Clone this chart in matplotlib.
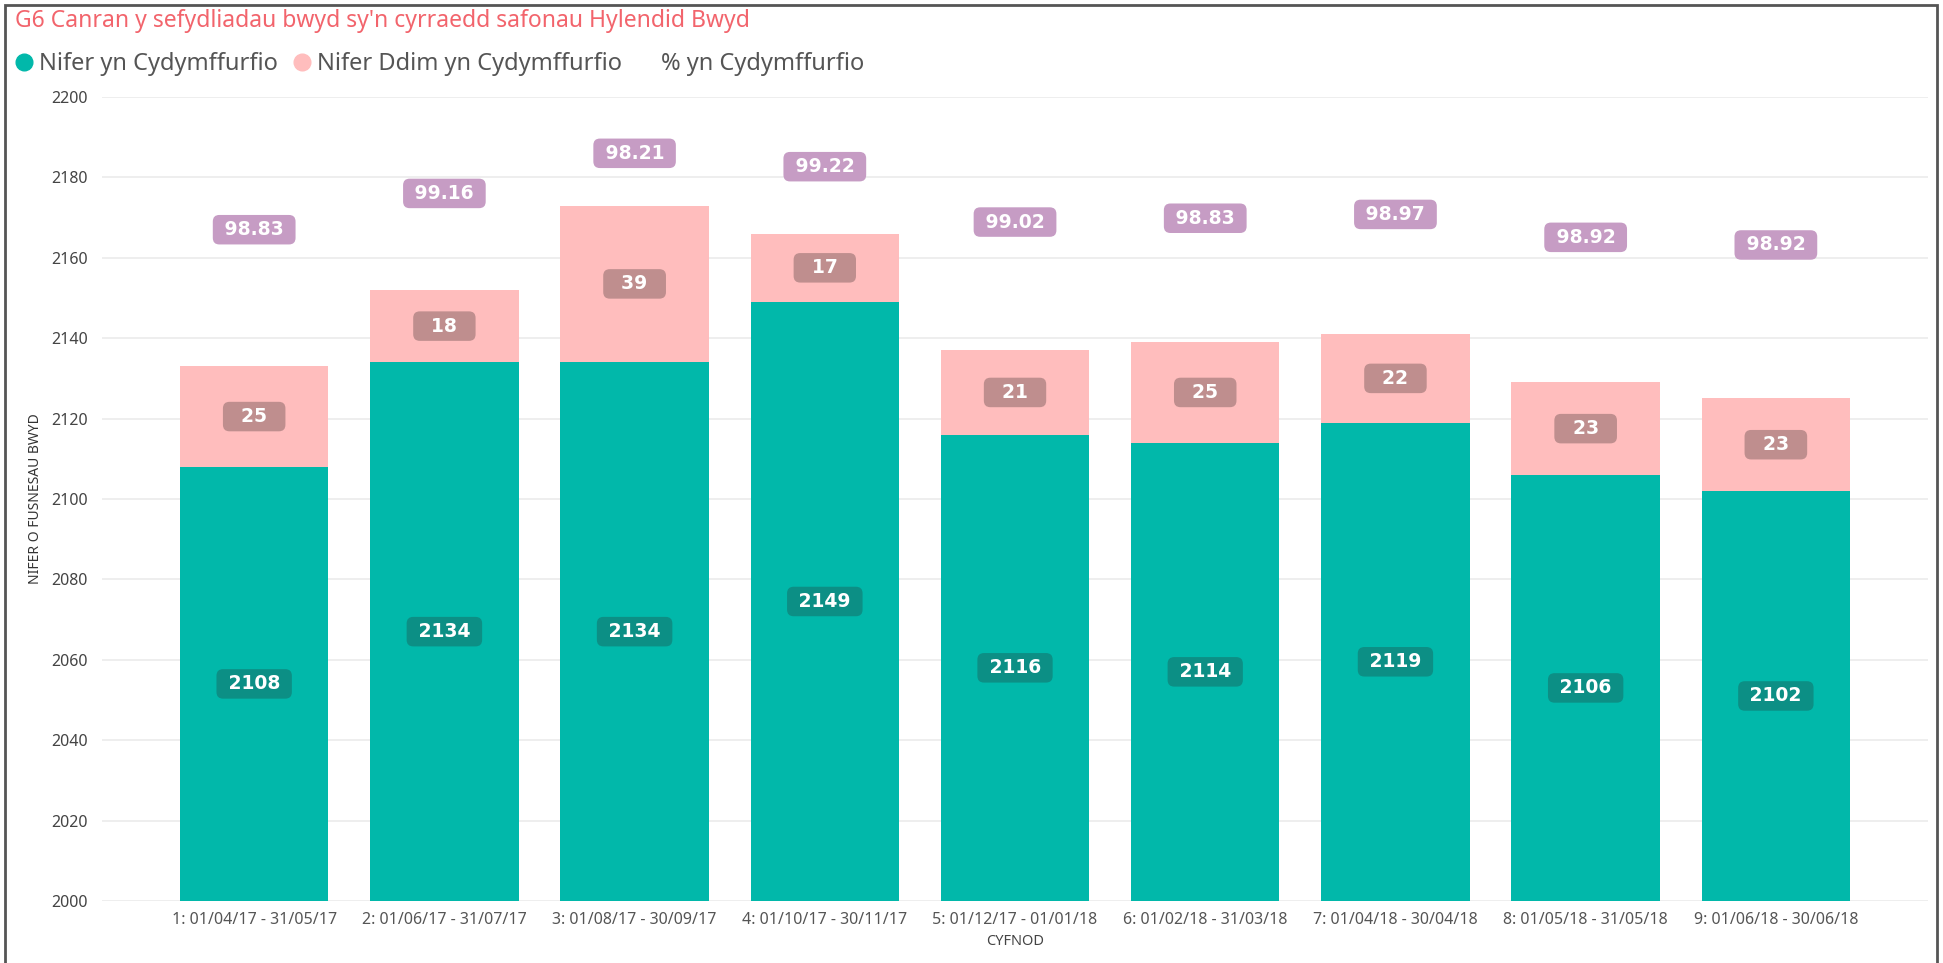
import matplotlib
matplotlib.use("Agg")
import matplotlib.pyplot as plt
from matplotlib.lines import Line2D
from matplotlib.patches import Rectangle

categories = ["1: 01/04/17 - 31/05/17", "2: 01/06/17 - 31/07/17", "3: 01/08/17 - 30/09/17",
              "4: 01/10/17 - 30/11/17", "5: 01/12/17 - 01/01/18", "6: 01/02/18 - 31/03/18",
              "7: 01/04/18 - 30/04/18", "8: 01/05/18 - 31/05/18", "9: 01/06/18 - 30/06/18"]
compliant = [2108, 2134, 2134, 2149, 2116, 2114, 2119, 2106, 2102]
non_compliant = [25, 18, 39, 17, 21, 25, 22, 23, 23]
pct_compliant = [98.83, 99.16, 98.21, 99.22, 99.02, 98.83, 98.97, 98.92, 98.92]
y_ticks = [2000, 2020, 2040, 2060, 2080, 2100, 2120, 2140, 2160, 2180, 2200]

TEAL = "#01B8AA"
PINK = "#FFBDBD"
TEAL_BOX = "#0C8F85"
PINK_BOX = "#BF8E8E"
PCT_BOX = "#C69CC4"

plt.rcParams['font.family'] = ['Noto Sans', 'DejaVu Sans']

fig = plt.figure(figsize=(19.43, 9.63), dpi=100)
ax = fig.add_axes([0.0525, 0.0644, 0.9398, 0.8349])

base = 2000
x = list(range(len(categories)))
heights_c = [v - base for v in compliant]
ax.bar(x, heights_c, bottom=base, width=0.78, color=TEAL, zorder=2)
ax.bar(x, non_compliant, bottom=compliant, width=0.78, color=PINK, zorder=2)

ax.set_xlim(-0.8, len(categories) - 0.2)
ax.set_ylim(2000, 2200)
ax.set_yticks(y_ticks)
ax.set_yticklabels([str(t) for t in y_ticks], fontsize=11.5, color="#444444")
ax.set_xticks(x)
ax.set_xticklabels(categories, fontsize=11.5, color="#555555")
ax.tick_params(length=0, pad=8)
ax.tick_params(axis='y', pad=10)
for s in ax.spines.values():
    s.set_visible(False)
ax.grid(axis='y', color="#EBEBEB", linewidth=1.2, zorder=0)
ax.set_axisbelow(True)
ax.set_ylabel("NIFER O FUSNESAU BWYD", fontsize=10, color="#333333", labelpad=6)
ax.set_xlabel("CYFNOD", fontsize=10.5, color="#444444", labelpad=4)

lbl_kw = dict(ha='center', va='center', color='white', fontsize=13.5,
              fontweight='bold', family='DejaVu Sans', zorder=5)
box = 'round,pad=0.28,rounding_size=0.35'

for i, (c, n) in enumerate(zip(compliant, non_compliant)):
    ax.text(i, base + (c - base) / 2, f" {c} ",
            bbox=dict(boxstyle=box, fc=TEAL_BOX, ec='none'), **lbl_kw)
    ax.text(i, c + n / 2, f"  {n}  ",
            bbox=dict(boxstyle=box, fc=PINK_BOX, ec='none'), **lbl_kw)

# percentage series on a hidden secondary axis (line itself not drawn)
totals = [c + n for c, n in zip(compliant, non_compliant)]
ax2 = ax.twinx()
ax2.set_ylim(1781.5, 2202.5)
ax2.axis('off')
for i, (t, p) in enumerate(zip(totals, pct_compliant)):
    ax2.text(i, t, f" {p:.2f} ",
             bbox=dict(boxstyle=box, fc=PCT_BOX, ec='none'), **lbl_kw)

# title
fig.text(0.0075, 1 - 21 / 963, "G6 Canran y sefydliadau bwyd sy'n cyrraedd safonau Hylendid Bwyd",
         fontsize=16.5, color="#F2646C", ha='left', va='center')

# legend
handles = [Line2D([], [], marker='o', linestyle='none', markersize=12, color=TEAL),
           Line2D([], [], marker='o', linestyle='none', markersize=12, color=PINK),
           Line2D([], [], marker='o', linestyle='none', markersize=12, color='none')]
labels = ["Nifer yn Cydymffurfio", "Nifer Ddim yn Cydymffurfio", "% yn Cydymffurfio"]
fig.legend(handles, labels, loc='center left', bbox_to_anchor=(0.0075, 1 - 64 / 963),
           ncol=3, frameon=False, fontsize=17, handletextpad=0.25, columnspacing=0.6,
           labelcolor="#555555", handlelength=0.8, borderpad=0, borderaxespad=0)

# outer frame
fig.patches.append(Rectangle((5 / 1943, -0.01), (1937 - 5) / 1943, 1 - 5 / 963 + 0.01,
                             transform=fig.transFigure, fill=False, ec="#555555", lw=2))

fig.savefig("out.png", dpi=100)
